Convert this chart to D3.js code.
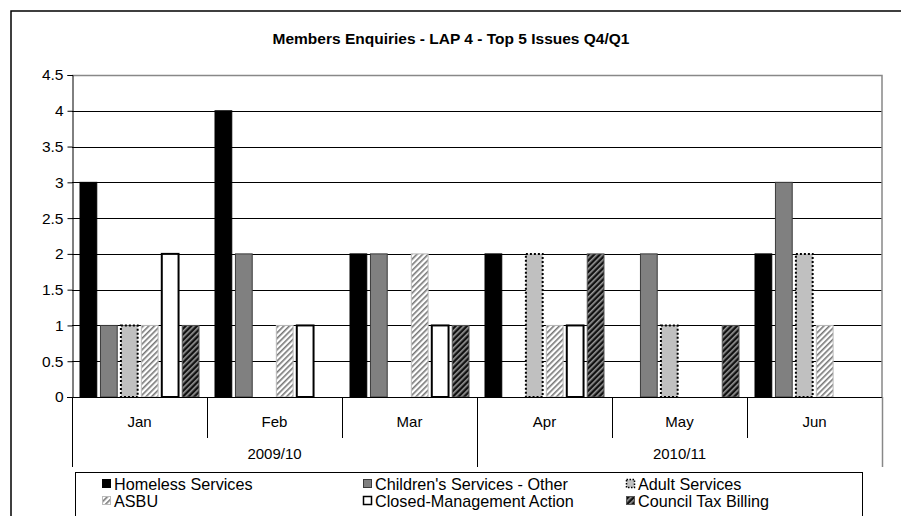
<!DOCTYPE html>
<html>
<head>
<meta charset="utf-8">
<script src="https://cdn.jsdelivr.net/npm/d3@7"></script>
<style>
  body { margin: 0; background: #fff; }
  text { font-family: "Liberation Sans", Arial, sans-serif; fill: #000; }
</style>
</head>
<body>
<div id="chart"></div>
<script>
// data
const months = ['Jan', 'Feb', 'Mar', 'Apr', 'May', 'Jun'];
const years = ['2009/10', '2010/11'];
const yearOfMonth = ['2009/10', '2009/10', '2009/10', '2010/11', '2010/11', '2010/11'];
const seriesNames = ['Homeless Services', "Children's Services - Other", 'Adult Services',
  'ASBU', 'Closed-Management Action', 'Council Tax Billing'];
const homeless = [3, 4, 2, 2, 0, 2];
const childrens = [1, 2, 2, 0, 2, 3];
const adult = [1, 0, 0, 2, 1, 2];
const asbu = [1, 1, 2, 1, 0, 1];
const closed = [2, 1, 1, 1, 0, 0];
const councilTax = [1, 0, 1, 2, 1, 0];
const yTicks = [0, 0.5, 1, 1.5, 2, 2.5, 3, 3.5, 4, 4.5];
const values = [homeless, childrens, adult, asbu, closed, councilTax];

const W = 901, H = 516;
const plot = {left: 72, right: 882, top: 75, bottom: 397};

const svg = d3.select('#chart').append('svg')
  .attr('width', W).attr('height', H);

// fill patterns
const defs = svg.append('defs');
function hatch(id, bg, fg) {
  const p = defs.append('pattern').attr('id', id)
    .attr('patternUnits', 'userSpaceOnUse')
    .attr('width', 4).attr('height', 4)
    .attr('patternTransform', 'rotate(45)');
  p.append('rect').attr('width', 4).attr('height', 4).attr('fill', bg);
  p.append('rect').attr('width', 1.6).attr('height', 4).attr('fill', fg);
}
hatch('pAsbu', '#ffffff', '#777777');
hatch('pTax', '#111111', '#9a9a9a');

const styles = [
  {fill: '#000', stroke: '#000', sw: 1, dash: null},
  {fill: '#808080', stroke: '#3a3a3a', sw: 1, dash: null},
  {fill: '#c0c0c0', stroke: '#000', sw: 2, dash: '2,2'},
  {fill: 'url(#pAsbu)', stroke: '#bbbbbb', sw: 1, dash: null},
  {fill: '#fff', stroke: '#000', sw: 2, dash: null},
  {fill: 'url(#pTax)', stroke: '#555', sw: 1, dash: null}
];

// outer chart border
svg.append('rect')
  .attr('x', 11).attr('y', 11).attr('width', 900).attr('height', 520)
  .attr('fill', 'none').attr('stroke', '#000').attr('stroke-width', 1.5);

// title
svg.append('text')
  .attr('x', 451).attr('y', 44)
  .attr('text-anchor', 'middle')
  .style('font-size', '15.5px').style('font-weight', 'bold')
  .text('Members Enquiries - LAP 4 - Top 5 Issues Q4/Q1');

const y = d3.scaleLinear().domain([0, 4.5]).range([plot.bottom, plot.top]);
const x0 = d3.scaleBand().domain(months).range([plot.left, plot.right]);
const x1 = d3.scaleBand().domain(d3.range(seriesNames.length))
  .range([8, x0.bandwidth() - 8]).paddingInner(0.18);

// gridlines
svg.append('g').selectAll('line')
  .data(yTicks.filter(d => d > 0 && d < 4.5))
  .join('line')
  .attr('x1', plot.left).attr('x2', plot.right)
  .attr('y1', d => Math.round(y(d)) + 0.5).attr('y2', d => Math.round(y(d)) + 0.5)
  .attr('stroke', '#000').attr('stroke-width', 1);

// plot area border (top / right)
svg.append('path')
  .attr('d', `M${plot.left},${plot.top + 0.5}H${plot.right}V${plot.bottom}`)
  .attr('fill', 'none').attr('stroke', '#888').attr('stroke-width', 1.5);

// bars
const groups = svg.append('g').selectAll('g')
  .data(months)
  .join('g')
  .attr('transform', d => `translate(${x0(d)},0)`);

groups.selectAll('rect')
  .data((m, mi) => values.map((arr, si) => ({si, v: arr[mi]})).filter(d => d.v > 0))
  .join('rect')
  .attr('x', d => x1(d.si))
  .attr('y', d => y(d.v))
  .attr('width', x1.bandwidth())
  .attr('height', d => y(0) - y(d.v))
  .attr('fill', d => styles[d.si].fill)
  .attr('stroke', d => styles[d.si].stroke)
  .attr('stroke-width', d => styles[d.si].sw)
  .attr('stroke-dasharray', d => styles[d.si].dash);

// y axis
const yAxis = d3.axisLeft(y).tickValues(yTicks).tickSize(5).tickPadding(4)
  .tickFormat(d => String(d));
const gy = svg.append('g').attr('transform', `translate(${plot.left + 0.5},0)`).call(yAxis);
gy.select('.domain').attr('stroke', '#000');
gy.selectAll('.tick line').attr('stroke', '#000');
gy.selectAll('text').style('font-size', '15.5px')
  .style('font-family', '"Liberation Sans", Arial, sans-serif').attr('fill', '#000');

// x axis: months
const gx = svg.append('g');
gx.append('line')
  .attr('x1', plot.left - 5).attr('x2', plot.right)
  .attr('y1', plot.bottom + 0.5).attr('y2', plot.bottom + 0.5)
  .attr('stroke', '#000');
gx.selectAll('.mtxt').data(months).join('text')
  .attr('class', 'mtxt')
  .attr('x', d => x0(d) + x0.bandwidth() / 2)
  .attr('y', 427)
  .attr('text-anchor', 'middle')
  .style('font-size', '15px')
  .text(d => d);

// month dividers within a year, full dividers at year boundaries
const bounds = d3.range(months.length + 1).map(i => ({
  x: i < months.length ? x0(months[i]) : plot.right,
  full: i === 0 || i === months.length || yearOfMonth[i] !== yearOfMonth[i - 1]
}));
gx.selectAll('.div').data(bounds).join('line')
  .attr('class', 'div')
  .attr('x1', d => Math.round(d.x) + 0.5).attr('x2', d => Math.round(d.x) + 0.5)
  .attr('y1', plot.bottom).attr('y2', d => d.full ? 467 : 438)
  .attr('stroke', (d, i) => i === months.length ? '#888' : '#000')
  .attr('stroke-width', (d, i) => i === months.length ? 1.5 : 1);

// year labels
gx.selectAll('.ytxt').data(years).join('text')
  .attr('class', 'ytxt')
  .attr('x', yr => {
    const ms = months.filter((m, i) => yearOfMonth[i] === yr);
    return (x0(ms[0]) + x0(ms[ms.length - 1]) + x0.bandwidth()) / 2;
  })
  .attr('y', 459)
  .attr('text-anchor', 'middle')
  .style('font-size', '15px')
  .text(d => d);

// legend
const lg = svg.append('g');
lg.append('rect')
  .attr('x', 75.5).attr('y', 472.5).attr('width', 787).attr('height', 60)
  .attr('fill', '#fff').attr('stroke', '#000');
const colX = [102, 363, 626];
const rowY = [484, 501];
const items = lg.selectAll('g').data(seriesNames).join('g')
  .attr('transform', (d, i) => `translate(${colX[i % 3]},${rowY[Math.floor(i / 3)]})`);
items.append('rect')
  .attr('x', 0.5).attr('y', -4.5).attr('width', 8).attr('height', 8)
  .attr('fill', (d, i) => styles[i].fill)
  .attr('stroke', (d, i) => styles[i].stroke)
  .attr('stroke-width', (d, i) => Math.min(styles[i].sw, 1.5))
  .attr('stroke-dasharray', (d, i) => styles[i].dash ? '1.5,1.5' : null);
items.append('text')
  .attr('x', 12).attr('y', 5.5)
  .style('font-size', '16.2px')
  .text(d => d);
</script>
</body>
</html>
